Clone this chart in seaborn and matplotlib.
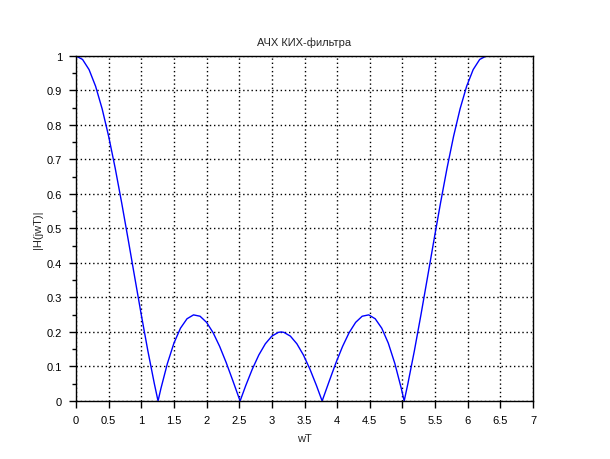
import matplotlib
matplotlib.use("Agg")
import matplotlib.pyplot as plt
import numpy as np
import pandas as pd
import seaborn as sns
from matplotlib.ticker import MultipleLocator

sns.set_theme(style="white")
plt.rcParams["font.family"] = ["Liberation Sans", "DejaVu Sans"]

# magnitude response (wT, |H(jwT)|)
wT = [
    0.0, 0.1, 0.2, 0.3, 0.4, 0.5, 0.6, 0.7, 0.8, 0.9, 1.0, 1.1, 1.2, 1.2566,
    1.3, 1.4, 1.5, 1.6, 1.7, 1.8, 1.9, 2.0, 2.1, 2.2, 2.3, 2.4, 2.5, 2.5133,
    2.6, 2.7, 2.8, 2.9, 3.0, 3.1, 3.1416,
    3.1832, 3.2832, 3.3832, 3.4832, 3.5832, 3.6832, 3.7699, 3.7832, 3.8832,
    3.9832, 4.0832, 4.1832, 4.2832, 4.3832, 4.4832, 4.5832, 4.6832, 4.7832,
    4.8832, 4.9832, 5.0265, 5.0832, 5.1832, 5.2832, 5.3832, 5.4832, 5.5832,
    5.6832, 5.7832, 5.8832, 5.9832, 6.0832, 6.1832, 6.2832,
]
H = [
    1.0, 0.9900, 0.9605, 0.9123, 0.8471, 0.7672, 0.6751, 0.5739, 0.4670,
    0.3578, 0.2497, 0.1460, 0.0500, 0.0,
    0.0358, 0.1089, 0.1677, 0.2110, 0.2383, 0.2496, 0.2457, 0.2279, 0.1980,
    0.1583, 0.1115, 0.0600, 0.0070, 0.0,
    0.0447, 0.0922, 0.1333, 0.1658, 0.1881, 0.1990, 0.2000,
    0.1990, 0.1881, 0.1658, 0.1333, 0.0922, 0.0447, 0.0, 0.0070, 0.0600,
    0.1115, 0.1583, 0.1980, 0.2279, 0.2457, 0.2496, 0.2383, 0.2110, 0.1677,
    0.1089, 0.0358, 0.0, 0.0500, 0.1460, 0.2497, 0.3578, 0.4670, 0.5739,
    0.6751, 0.7672, 0.8471, 0.9123, 0.9605, 0.9900, 1.0,
]
x_ticks = [0, 0.5, 1, 1.5, 2, 2.5, 3, 3.5, 4, 4.5, 5, 5.5, 6, 6.5, 7]
y_ticks = [0, 0.1, 0.2, 0.3, 0.4, 0.5, 0.6, 0.7, 0.8, 0.9, 1]

df = pd.DataFrame({"wT": wT, "H": H})

fig = plt.figure(figsize=(6.1, 4.6), dpi=100)
ax = fig.add_axes([0.1246, 0.1261, 0.7492, 0.75])

sns.lineplot(data=df, x="wT", y="H", ax=ax, color="blue", linewidth=1.0,
             sort=False, estimator=None)

ax.set_xlim(0, 7)
ax.set_ylim(0, 1)
ax.set_xticks(x_ticks)
ax.set_xticklabels([f"{t:g}" for t in x_ticks])
ax.set_yticks(y_ticks)
ax.set_yticklabels([f"{t:g}" for t in y_ticks])
ax.yaxis.set_minor_locator(MultipleLocator(0.05))

ax.grid(True, which="major", color="black", linestyle=(0, (1, 2)), linewidth=1.0)
ax.set_axisbelow(True)
for spine in ax.spines.values():
    spine.set_visible(True)
    spine.set_color("black")
    spine.set_linewidth(1.0)

ax.tick_params(axis="both", which="major", direction="out", length=5, width=1,
               color="black", labelsize=8, labelcolor="black", pad=5,
               bottom=True, left=True, top=False, right=False)
ax.tick_params(axis="y", which="minor", direction="out", length=3, width=1,
               color="black", left=True)

ax.set_title("АЧХ КИХ-фильтра", fontsize=8, pad=8)
ax.set_xlabel("wT", fontsize=8, labelpad=6)
ax.set_ylabel("|H(jwT)|", fontsize=8, labelpad=3)

fig.savefig("out.png", dpi=100, facecolor="white")
